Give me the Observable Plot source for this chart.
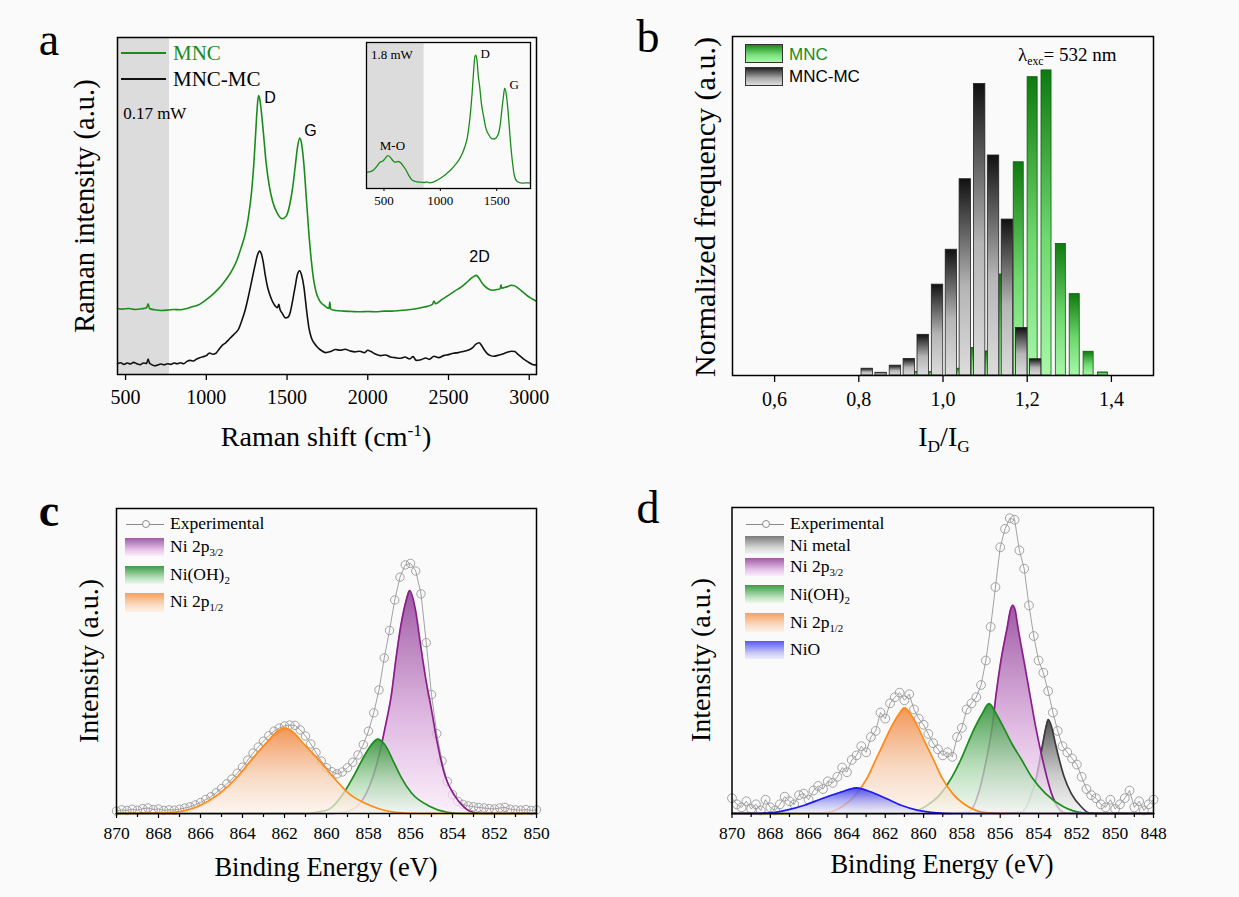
<!DOCTYPE html>
<html>
<head>
<meta charset="utf-8">
<script src="https://cdn.jsdelivr.net/npm/d3@7"></script>
<script src="https://cdn.jsdelivr.net/npm/@observablehq/plot@0.6"></script>
<style>
  body { margin: 0; background: #fafafa; }
  #fig { position: relative; width: 1239px; height: 897px; overflow: hidden; font-family: 'Liberation Serif', 'Times New Roman', serif; }
  .pl { position: absolute; }
  .lbl { position: absolute; white-space: nowrap; line-height: 1; color: #000; }
  .lbl sub { font-size: 0.62em; vertical-align: -0.35em; line-height: 0; }
  .lbl sup { font-size: 0.62em; vertical-align: 0.6em; line-height: 0; }
  .sw { position: absolute; box-sizing: border-box; }
</style>
</head>
<body>
<div id="fig"></div>
<svg width="0" height="0" style="position:absolute">
  <defs>
    <linearGradient id="gBarGreen" x1="0" y1="0" x2="0" y2="1">
      <stop offset="0" stop-color="#0f7a0f"/><stop offset="0.55" stop-color="#6fd86f"/><stop offset="1" stop-color="#a8f7a8"/>
    </linearGradient>
    <linearGradient id="gBarBlack" x1="0" y1="0" x2="0" y2="1">
      <stop offset="0" stop-color="#111"/><stop offset="0.55" stop-color="#b5b5b5"/><stop offset="1" stop-color="#dcdcdc"/>
    </linearGradient>
    <linearGradient id="gPurple" x1="0" y1="0" x2="0" y2="1">
      <stop offset="0" stop-color="#94479a" stop-opacity="0.9"/><stop offset="0.6" stop-color="#d9a8dc" stop-opacity="0.75"/><stop offset="1" stop-color="#fbeafb" stop-opacity="0.7"/>
    </linearGradient>
    <linearGradient id="gGreen" x1="0" y1="0" x2="0" y2="1">
      <stop offset="0" stop-color="#2f8f35" stop-opacity="0.9"/><stop offset="0.6" stop-color="#a9d8ab" stop-opacity="0.75"/><stop offset="1" stop-color="#eef8ee" stop-opacity="0.7"/>
    </linearGradient>
    <linearGradient id="gOrange" x1="0" y1="0" x2="0" y2="1">
      <stop offset="0" stop-color="#f28a45" stop-opacity="0.9"/><stop offset="0.6" stop-color="#f7d2b6" stop-opacity="0.75"/><stop offset="1" stop-color="#fdf3ea" stop-opacity="0.7"/>
    </linearGradient>
    <linearGradient id="gGray" x1="0" y1="0" x2="0" y2="1">
      <stop offset="0" stop-color="#3c3c3c" stop-opacity="0.9"/><stop offset="0.6" stop-color="#bdbdbd" stop-opacity="0.75"/><stop offset="1" stop-color="#f2f2f2" stop-opacity="0.7"/>
    </linearGradient>
    <linearGradient id="gBlue" x1="0" y1="0" x2="0" y2="1">
      <stop offset="0" stop-color="#3535ee" stop-opacity="0.9"/><stop offset="0.6" stop-color="#a9a9f2" stop-opacity="0.75"/><stop offset="1" stop-color="#ececfb" stop-opacity="0.7"/>
    </linearGradient>
  </defs>
</svg>
<script>
// ---------------- DATA ----------------
// Panel a: Raman spectra (x: Raman shift cm-1, y: intensity a.u.)
const ramanMNC = [[450,19.6],[480,19.4],[520,19.6],[560,19.3],[600,19.5],[630,19.8],[640,21.0],[648,19.6],[680,19.2],[720,19.0],[760,19.1],[800,19.3],[840,19.2],[880,19.6],[920,20.2],[950,20.6],[980,21.5],[1010,22.6],[1040,23.8],[1070,25.2],[1100,26.8],[1130,28.7],[1160,31.0],[1190,34.0],[1215,37.5],[1240,41.5],[1260,46.5],[1280,54.0],[1295,63.0],[1305,71.0],[1315,79.0],[1323,82.8],[1332,81.5],[1342,77.5],[1355,71.0],[1370,63.0],[1390,56.0],[1410,51.5],[1440,47.8],[1470,46.2],[1495,47.0],[1515,50.0],[1535,55.5],[1550,61.5],[1565,67.5],[1578,70.2],[1590,68.5],[1605,62.0],[1620,52.0],[1635,42.0],[1650,34.0],[1665,28.0],[1680,24.5],[1700,22.0],[1730,20.5],[1760,19.6],[1765,21.5],[1770,19.4],[1800,19.0],[1850,18.8],[1900,18.7],[1950,18.6],[2000,18.7],[2050,18.6],[2100,18.8],[2150,18.8],[2200,19.0],[2250,19.2],[2300,19.5],[2350,20.0],[2400,20.8],[2410,21.8],[2420,21.0],[2460,22.3],[2500,23.5],[2540,24.8],[2580,26.0],[2610,27.2],[2640,28.5],[2660,29.2],[2672,29.4],[2690,28.5],[2710,27.0],[2740,25.6],[2770,25.0],[2800,25.2],[2820,25.5],[2825,26.6],[2830,25.6],[2860,26.0],[2890,26.5],[2910,26.3],[2935,25.5],[2960,24.5],[2990,23.3],[3020,22.4],[3045,21.7]];
const ramanMNCMC = [[450,3.2],[470,3.5],[490,3.0],[510,3.4],[530,3.1],[550,3.6],[570,3.2],[590,2.9],[610,3.4],[630,3.3],[640,4.6],[648,3.4],[660,3.0],[680,2.6],[700,2.8],[720,3.1],[740,2.9],[760,3.2],[780,3.0],[800,3.4],[820,3.2],[840,3.5],[860,3.2],[880,3.9],[900,4.2],[920,4.0],[940,4.6],[960,5.0],[980,5.3],[1000,5.6],[1020,6.4],[1040,6.0],[1060,6.3],[1080,7.6],[1100,8.7],[1120,9.4],[1140,10.4],[1160,11.4],[1180,12.3],[1200,13.5],[1220,16.0],[1240,19.0],[1260,23.0],[1280,27.5],[1300,32.0],[1318,35.6],[1330,36.6],[1340,36.0],[1352,33.5],[1365,29.5],[1380,25.8],[1400,22.8],[1420,20.8],[1440,19.8],[1450,20.8],[1455,19.5],[1470,18.2],[1490,16.8],[1505,17.0],[1520,18.5],[1535,22.0],[1550,26.0],[1565,29.8],[1578,30.8],[1590,29.5],[1605,25.8],[1620,19.5],[1635,14.0],[1650,11.0],[1670,9.2],[1690,8.0],[1710,7.2],[1740,6.5],[1770,6.8],[1800,7.4],[1830,7.2],[1860,7.5],[1890,7.0],[1920,6.7],[1950,6.9],[1980,6.5],[2000,7.2],[2020,6.8],[2050,6.0],[2080,5.6],[2110,5.8],[2140,5.2],[2170,5.0],[2200,4.8],[2230,5.2],[2260,4.6],[2280,5.3],[2300,4.2],[2330,4.4],[2360,4.9],[2380,4.5],[2410,5.4],[2440,5.0],[2470,5.6],[2500,5.9],[2530,6.3],[2560,6.5],[2590,6.8],[2620,7.2],[2650,8.0],[2670,9.0],[2690,9.4],[2705,8.6],[2720,7.4],[2740,6.2],[2760,5.6],[2780,5.4],[2800,5.6],[2830,6.0],[2860,6.5],[2890,6.9],[2910,6.8],[2930,6.0],[2960,4.8],[2990,3.8],[3020,3.0],[3045,2.8]];
const ramanInset = [[350,11.1],[380,11.5],[412,13],[440,15.5],[465,18],[490,18.8],[510,20.5],[535,22.5],[555,21.5],[575,19.5],[600,18],[625,18.5],[650,17.5],[670,15.5],[693,13],[720,9.0],[746,6.1],[780,4.8],[816,4.3],[858,4.1],[880,4.6],[904,3.9],[930,4.2],[956,5],[990,6.5],[1026,8.4],[1060,10.5],[1096,13],[1130,16],[1167,19.8],[1195,24],[1219,28.9],[1240,35],[1254,42.5],[1270,54],[1282,65.2],[1295,80],[1307,90.5],[1315,91.4],[1325,88],[1337,77],[1349,69.8],[1365,58],[1384,49.3],[1405,41],[1430,36.8],[1455,34.2],[1476,33.9],[1500,35.2],[1518,38],[1532,44],[1546,53.9],[1560,63],[1570,68.6],[1582,66],[1595,58],[1610,44],[1623,31.1],[1640,18],[1658,8.4],[1680,5],[1711,3.9],[1740,3.7],[1770,3.9],[1800,3.8]];
const ramanTicks = [500, 1000, 1500, 2000, 2500, 3000];
const insetTicks = [500, 1000, 1500];
const powerBands = [{x1: 450, x2: 772, text: "0.17 mW"}];
const insetBands = [{x1: 345, x2: 856, text: "1.8 mW"}];
const peakLabels = [{x: 1395, y: 82, text: "D"}, {x: 1645, y: 72.3, text: "G"}, {x: 2692, y: 35, text: "2D"}];
const powerLabels = [{x: 485, y: 77.4, text: "0.17 mW"}];
const insetLabels = [{x: 1398, y: 92.3, text: "D"}, {x: 1655, y: 71, text: "G"}, {x: 575, y: 29.5, text: "M-O"}];
const insetPower = [{x: 385, y: 91.8, text: "1.8 mW"}];

// Panel b: I_D/I_G histogram
const binCenters = [0.820,0.853,0.887,0.920,0.953,0.987,1.020,1.053,1.087,1.120,1.153,1.187,1.220,1.253,1.287,1.320,1.353,1.387];
const binWidth = 1 / 30;
const freqMNC   = [0,0,0,0,0.010,0.010,0,0.020,0.081,0.071,0.298,0.629,0.880,0.900,0.388,0.240,0.070,0.009];
const freqMNCMC = [0.020,0.008,0.029,0.049,0.120,0.268,0.371,0.579,0.860,0.649,0.460,0.140,0.048,0,0,0,0,0];
const ratioTicks = [0.6, 0.8, 1.0, 1.2, 1.4];

// Panel c: XPS Ni 2p (binding energy eV, intensity a.u.)
const cExp = [[870,0.008],[869.75,0.012],[869.5,0.010],[869.25,0.014],[869,0.011],[868.75,0.016],[868.5,0.018],[868.25,0.013],[868,0.015],[867.75,0.010],[867.5,0.012],[867.25,0.011],[867,0.014],[866.75,0.018],[866.5,0.022],[866.25,0.028],[866,0.036],[865.75,0.046],[865.5,0.055],[865.25,0.068],[865,0.082],[864.75,0.097],[864.5,0.113],[864.25,0.132],[864,0.152],[863.75,0.175],[863.5,0.198],[863.25,0.218],[863,0.237],[862.75,0.255],[862.5,0.270],[862.25,0.280],[862,0.287],[861.75,0.290],[861.5,0.289],[861.25,0.274],[861,0.254],[860.75,0.228],[860.5,0.200],[860.25,0.172],[860,0.150],[859.75,0.137],[859.5,0.130],[859.25,0.136],[859,0.150],[858.75,0.168],[858.5,0.192],[858.25,0.226],[858,0.270],[857.75,0.330],[857.5,0.405],[857.25,0.510],[857,0.600],[856.75,0.700],[856.5,0.775],[856.25,0.815],[856,0.820],[855.75,0.795],[855.5,0.720],[855.25,0.560],[855,0.390],[854.75,0.262],[854.5,0.172],[854.25,0.105],[854,0.062],[853.75,0.040],[853.5,0.030],[853.25,0.025],[853,0.022],[852.75,0.020],[852.5,0.018],[852.25,0.016],[852,0.015],[851.75,0.018],[851.5,0.020],[851.25,0.014],[851,0.012],[850.75,0.011],[850.5,0.013],[850.25,0.010],[850,0.012]];
const cP32 = [[870,0],[860,0],[859.5,0.001],[858.8,0.012],[858.1,0.067],[857.55,0.176],[857.2,0.285],[856.9,0.394],[856.7,0.503],[856.47,0.612],[856.2,0.70],[856.04,0.731],[855.76,0.666],[855.53,0.557],[855.29,0.448],[855.0,0.34],[854.72,0.23],[854.35,0.122],[853.88,0.057],[853.5,0.024],[853.03,0.004],[852.5,0],[850,0]];
const cOH = [[870,0],[861,0],[860.5,0.004],[859.9,0.013],[859.18,0.067],[858.71,0.122],[858.3,0.176],[857.92,0.22],[857.55,0.244],[857.17,0.22],[856.85,0.176],[856.47,0.122],[855.95,0.067],[855.1,0.024],[854.25,0.004],[853.5,0],[850,0]];
const cP12 = [[870,0],[868,0.001],[867.23,0.004],[866.1,0.024],[865.07,0.067],[864.22,0.122],[863.57,0.176],[862.87,0.231],[862.34,0.269],[862.0,0.28],[861.63,0.269],[861.12,0.231],[860.37,0.176],[859.71,0.122],[858.96,0.067],[857.83,0.024],[856.7,0.004],[855.5,0],[850,0]];
const cTicks = [870, 868, 866, 864, 862, 860, 858, 856, 854, 852, 850];
const cMinor = [869, 867, 865, 863, 861, 859, 857, 855, 853, 851];

// Panel d
const dExp = [[870,0.05],[869.75,0.03],[869.5,0.02],[869.25,0.04],[869,0.015],[868.75,0.03],[868.5,0.01],[868.25,0.045],[868,0.02],[867.75,0.01],[867.5,0.03],[867.25,0.055],[867,0.04],[866.75,0.03],[866.5,0.06],[866.25,0.065],[866,0.045],[865.75,0.075],[865.5,0.09],[865.25,0.08],[865,0.105],[864.75,0.1],[864.5,0.12],[864.25,0.15],[864,0.135],[863.75,0.175],[863.5,0.19],[863.25,0.22],[863,0.2],[862.75,0.25],[862.5,0.27],[862.25,0.33],[862,0.31],[861.75,0.36],[861.5,0.38],[861.25,0.395],[861,0.37],[860.75,0.39],[860.5,0.34],[860.25,0.31],[860,0.29],[859.75,0.26],[859.5,0.23],[859.25,0.21],[859,0.19],[858.75,0.2],[858.5,0.185],[858.25,0.25],[858,0.28],[857.75,0.34],[857.5,0.36],[857.25,0.38],[857,0.42],[856.75,0.5],[856.5,0.61],[856.25,0.74],[856,0.87],[855.75,0.93],[855.5,0.965],[855.25,0.96],[855,0.86],[854.75,0.8],[854.5,0.68],[854.25,0.58],[854,0.5],[853.75,0.46],[853.5,0.4],[853.25,0.33],[853,0.27],[852.75,0.22],[852.5,0.2],[852.25,0.18],[852,0.16],[851.75,0.12],[851.5,0.08],[851.25,0.06],[851,0.05],[850.75,0.03],[850.5,0.02],[850.25,0.045],[850,0.015],[849.75,0.03],[849.5,0.05],[849.25,0.075],[849,0.02],[848.75,0.04],[848.5,0.01],[848.25,0.03],[848,0.045]];
const dMetal = [[870,0],[856,0],[855.3,0.003],[854.87,0.005],[854.36,0.065],[854.11,0.119],[853.94,0.174],[853.78,0.228],[853.61,0.283],[853.49,0.307],[853.32,0.283],[853.12,0.228],[852.91,0.174],[852.66,0.119],[852.29,0.065],[851.77,0.022],[851.36,0.002],[850.8,0],[848,0]];
const dP32 = [[870,0],[859,0],[858.3,0.002],[857.66,0.005],[857.14,0.065],[856.73,0.174],[856.42,0.283],[856.21,0.392],[855.96,0.501],[855.63,0.610],[855.47,0.664],[855.35,0.68],[855.22,0.664],[855.08,0.610],[854.77,0.501],[854.46,0.392],[854.15,0.283],[853.78,0.174],[853.32,0.065],[853.01,0.022],[852.6,0.002],[852,0],[848,0]];
const dOH = [[870,0],[862,0],[861.3,0.001],[860.65,0.002],[859.93,0.022],[859.1,0.065],[858.52,0.119],[858.07,0.174],[857.7,0.228],[857.31,0.283],[856.94,0.326],[856.58,0.359],[856.21,0.326],[855.84,0.283],[855.39,0.228],[854.87,0.174],[854.36,0.119],[853.63,0.065],[852.7,0.022],[851.67,0.002],[851,0],[848,0]];
const dP12 = [[870,0],[866.5,0],[865.19,0.002],[864.26,0.022],[863.5,0.065],[862.92,0.119],[862.51,0.174],[862.1,0.228],[861.68,0.283],[861.27,0.326],[861.0,0.345],[860.69,0.326],[860.3,0.283],[859.89,0.228],[859.47,0.174],[859.06,0.119],[858.48,0.065],[857.66,0.022],[856.63,0.002],[855.5,0],[848,0]];
const dNiO = [[870,0],[869,0],[867.98,0.002],[867.15,0.011],[866.22,0.027],[865.29,0.049],[864.26,0.071],[863.5,0.084],[862.78,0.071],[861.95,0.049],[861.17,0.027],[860.34,0.011],[859.31,0.002],[858.5,0],[848,0]];
const dTicks = [870, 868, 866, 864, 862, 860, 858, 856, 854, 852, 850, 848];
const dMinor = [869, 867, 865, 863, 861, 859, 857, 855, 853, 851, 849];

// ---------------- HELPERS ----------------
const fig = document.getElementById("fig");
const SERIF = "'Liberation Serif', 'Times New Roman', serif";
const SANS = "'Liberation Sans', Arial, sans-serif";
const X = d => d[0], Y = d => d[1];

function put(el, left, top) {
  const div = document.createElement("div");
  div.className = "pl";
  div.style.left = left + "px";
  div.style.top = top + "px";
  div.appendChild(el);
  fig.appendChild(div);
}
function label(html, x, y, css = "", anchor = "start", rotate = false) {
  const d = document.createElement("div");
  d.className = "lbl";
  d.innerHTML = html;
  d.style.left = x + "px";
  d.style.top = y + "px";
  const tx = anchor === "middle" ? "-50%" : "0";
  d.style.transform = `translate(${tx},-50%)` + (rotate ? " rotate(-90deg)" : "");
  d.style.cssText += css;
  fig.appendChild(d);
}
function swatch(x, y, w, h, css) {
  const d = document.createElement("div");
  d.className = "sw";
  d.style.left = x + "px"; d.style.top = y + "px";
  d.style.width = w + "px"; d.style.height = h + "px";
  d.style.cssText += css;
  fig.appendChild(d);
}
const baseStyle = (fs) => ({fontFamily: SERIF, fontSize: fs + "px", background: "transparent", overflow: "visible", color: "#000"});

// ---------------- PANEL A ----------------
const plotA = Plot.plot({
  width: 620, height: 460,
  marginLeft: 117, marginRight: 84, marginTop: 37, marginBottom: 86,
  style: baseStyle(19),
  x: {domain: [450, 3045]},
  y: {domain: [0, 100], axis: null},
  marks: [
    Plot.rect(powerBands, {x1: "x1", x2: "x2", y1: 0, y2: 100, fill: "#dcdcdc"}),
    Plot.line(ramanMNCMC, {x: X, y: Y, stroke: "#111", strokeWidth: 1.6, curve: "monotone-x"}),
    Plot.line(ramanMNC, {x: X, y: Y, stroke: "#1b8c1b", strokeWidth: 1.6, curve: "monotone-x"}),
    Plot.text(peakLabels, {x: "x", y: "y", text: "text", fontFamily: SANS, fontSize: 16, fill: "#000"}),
    Plot.text(powerLabels, {x: "x", y: "y", text: "text", fontSize: 17, textAnchor: "start", fill: "#000"}),
    Plot.frame({stroke: "#000", strokeWidth: 1.5}),
    Plot.axisX({ticks: ramanTicks, tickSize: 6, tickPadding: 9, fontSize: 20, label: null, strokeWidth: 1.3, tickFormat: d => String(d)})
  ]
});
put(plotA, 0, 0);

// Inset
const plotInset = Plot.plot({
  width: 166, height: 176,
  marginLeft: 1, marginRight: 1, marginTop: 1, marginBottom: 29,
  style: baseStyle(13),
  x: {domain: [345, 1800]},
  y: {domain: [0, 100], axis: null},
  marks: [
    Plot.rect(insetBands, {x1: "x1", x2: "x2", y1: 0, y2: 100, fill: "#dcdcdc"}),
    Plot.line(ramanInset, {x: X, y: Y, stroke: "#1b8c1b", strokeWidth: 1.3, curve: "monotone-x"}),
    Plot.text(insetLabels, {x: "x", y: "y", text: "text", fontSize: 13, fill: "#000"}),
    Plot.text(insetPower, {x: "x", y: "y", text: "text", fontSize: 13, textAnchor: "start", fill: "#000"}),
    Plot.frame({stroke: "#000", strokeWidth: 1.3}),
    Plot.axisX({ticks: insetTicks, tickSize: 3, tickPadding: 4, fontSize: 13, label: null, tickFormat: d => String(d)})
  ]
});
put(plotInset, 365, 41);

// ---------------- PANEL B ----------------
const barsMNC = binCenters.map((c, i) => ({x1: c - binWidth / 2, x2: c + binWidth / 2, y: freqMNC[i]})).filter(d => d.y > 0);
const barsMC = binCenters.map((c, i) => ({x1: c - binWidth / 2, x2: c + binWidth / 2, y: freqMNCMC[i]})).filter(d => d.y > 0);
const plotB = Plot.plot({
  width: 619, height: 460,
  marginLeft: 112, marginRight: 86, marginTop: 36, marginBottom: 85,
  style: baseStyle(19),
  x: {domain: [0.5, 1.5]},
  y: {domain: [0, 1], axis: null},
  marks: [
    Plot.rectY(barsMNC, {x1: "x1", x2: "x2", y1: 0, y2: "y", fill: "url(#gBarGreen)", stroke: "#0b5c0b", strokeWidth: 0.8, insetLeft: 2, insetRight: 2, dx: -3}),
    Plot.rectY(barsMC, {x1: "x1", x2: "x2", y1: 0, y2: "y", fill: "url(#gBarBlack)", stroke: "#222", strokeWidth: 0.8, insetLeft: 1.3, insetRight: 1.3}),
    Plot.frame({stroke: "#000", strokeWidth: 1.5}),
    Plot.axisX({ticks: ratioTicks, tickSize: 7, tickPadding: 9, fontSize: 20, label: null, strokeWidth: 1.3, tickFormat: d => d.toFixed(1).replace(".", ",")})
  ]
});
put(plotB, 620, 0);

// ---------------- PANEL C ----------------
function fitMarks(data, grad, color) {
  return [
    Plot.areaY(data, {x: X, y: Y, fill: grad, curve: "monotone-x"}),
    Plot.line(data, {x: X, y: Y, stroke: color, strokeWidth: 1.7, curve: "monotone-x"})
  ];
}
const plotC = Plot.plot({
  width: 620, height: 437,
  marginLeft: 116, marginRight: 84, marginTop: 48, marginBottom: 84,
  style: baseStyle(17),
  x: {domain: [870, 850]},
  y: {domain: [0, 1], axis: null},
  marks: [
    Plot.line(cExp, {x: X, y: Y, stroke: "#8a8a8a", strokeWidth: 0.8}),
    Plot.dot(cExp, {x: X, y: Y, r: 4.2, stroke: "#999", strokeWidth: 0.9, fill: "none"}),
    ...fitMarks(cP32, "url(#gPurple)", "#8b1c8b"),
    ...fitMarks(cOH, "url(#gGreen)", "#1e8c1e"),
    ...fitMarks(cP12, "url(#gOrange)", "#ff8a16"),
    Plot.frame({stroke: "#000", strokeWidth: 1.5}),
    Plot.axisX({ticks: cMinor, tickSize: 4, tickFormat: () => "", label: null, strokeWidth: 1.2}),
    Plot.axisX({ticks: cTicks, tickSize: 5, tickPadding: 8, fontSize: 17.5, label: null, strokeWidth: 1.2, tickFormat: d => String(d)})
  ]
});
put(plotC, 0, 460);

// ---------------- PANEL D ----------------
const plotD = Plot.plot({
  width: 619, height: 437,
  marginLeft: 111.5, marginRight: 86, marginTop: 47, marginBottom: 84,
  style: baseStyle(17),
  x: {domain: [870, 848]},
  y: {domain: [0, 1], axis: null},
  marks: [
    Plot.line(dExp, {x: X, y: Y, stroke: "#8a8a8a", strokeWidth: 0.8}),
    Plot.dot(dExp, {x: X, y: Y, r: 4.4, stroke: "#999", strokeWidth: 0.9, fill: "none"}),
    ...fitMarks(dMetal, "url(#gGray)", "#3a3a3a"),
    ...fitMarks(dP32, "url(#gPurple)", "#8b1c8b"),
    ...fitMarks(dOH, "url(#gGreen)", "#1e8c1e"),
    ...fitMarks(dP12, "url(#gOrange)", "#ff8a16"),
    ...fitMarks(dNiO, "url(#gBlue)", "#1c1cf0"),
    Plot.frame({stroke: "#000", strokeWidth: 1.5}),
    Plot.axisX({ticks: dMinor, tickSize: 4, tickFormat: () => "", label: null, strokeWidth: 1.2}),
    Plot.axisX({ticks: dTicks, tickSize: 5, tickPadding: 8, fontSize: 17.5, label: null, strokeWidth: 1.2, tickFormat: d => String(d)})
  ]
});
put(plotD, 620, 460);

// ---------------- TEXT: letters, axis titles, legends ----------------
const L = `font-family:${SERIF};`;
label("a", 49, 40, L + "font-size:46px;", "middle");
label("b", 648, 37, L + "font-size:46px;", "middle");
label("c", 49, 511, L + "font-size:46px;font-weight:bold;", "middle");
label("d", 648, 508, L + "font-size:46px;", "middle");

label("Raman shift (cm<sup>-1</sup>)", 326, 437, L + "font-size:28px;", "middle");
label("Raman intensity (a.u.)", 85, 206, L + "font-size:28.5px;", "middle", true);
label("I<sub>D</sub>/I<sub>G</sub>", 944, 437, L + "font-size:28px;", "middle");
label("Normalized frequency (a.u.)", 705, 207, L + "font-size:30px;", "middle", true);
label("Binding Energy (eV)", 326, 867, L + "font-size:26.5px;", "middle");
label("Intensity (a.u.)", 89, 661, L + "font-size:28px;", "middle", true);
label("Binding Energy (eV)", 942, 864, L + "font-size:26.5px;", "middle");
label("Intensity (a.u.)", 701, 660, L + "font-size:28px;", "middle", true);

// Legend a
swatch(121, 51.7, 45, 2.2, "background:#1b8c1b;");
swatch(121, 77.5, 45, 2.2, "background:#111;");
label("MNC", 173, 53, L + "font-size:21px;color:#1b8c1b;");
label("MNC-MC", 173, 79, L + "font-size:21px;");

// Legend b
swatch(745, 43.5, 38, 19.5, "background:linear-gradient(#1a8a1a,#7fe07f 60%,#aaf7aa);border:1px solid #333;");
swatch(745, 66.5, 38, 19, "background:linear-gradient(#222,#aaa 60%,#ddd);border:1px solid #333;");
label("MNC", 789, 53.5, `font-family:${SANS};font-size:17px;color:#1b8c1b;`);
label("MNC-MC", 789, 75.5, `font-family:${SANS};font-size:17px;`);
label("λ<sub>exc</sub>= 532 nm", 1018, 54, L + "font-size:19px;");

// Legends c and d
function expLegend(x0, y) {
  swatch(x0, y - 0.5, 38, 1.2, "background:#8a8a8a;");
  swatch(x0 + 15.5, y - 4, 8, 8, "background:#fff;border:1px solid #888;border-radius:50%;");
}
const swC = {
  purple: "linear-gradient(#a05aa8,#e6c4e8 65%,#fbeefb)",
  green: "linear-gradient(#3e9a48,#b6dfb8 65%,#eef8ee)",
  orange: "linear-gradient(#f5a060,#f9dcc6 65%,#fdf2e8)",
  gray: "linear-gradient(#7a7a7a,#d6d6d6 65%,#f3f3f3)",
  blue: "linear-gradient(#5858ee,#c6c6f5 65%,#eeeefb)"
};
const LT = L + "font-size:17.5px;";
expLegend(126, 524);
label("Experimental", 170, 524, LT);
swatch(125, 538, 39, 18.3, "background:" + swC.purple);
label("Ni 2p<sub>3/2</sub>", 170, 547, LT);
swatch(125, 566, 39, 18.3, "background:" + swC.green);
label("Ni(OH)<sub>2</sub>", 170, 575, LT);
swatch(125, 593, 39, 18.5, "background:" + swC.orange);
label("Ni 2p<sub>1/2</sub>", 170, 602, LT);

expLegend(746, 524);
label("Experimental", 790, 524, LT);
swatch(745, 536, 39, 17.5, "background:" + swC.gray);
label("Ni metal", 790, 545.5, LT);
swatch(745, 558, 39, 18, "background:" + swC.purple);
label("Ni 2p<sub>3/2</sub>", 790, 567, LT);
swatch(745, 585, 39, 18, "background:" + swC.green);
label("Ni(OH)<sub>2</sub>", 790, 595, LT);
swatch(745, 613, 39, 18.5, "background:" + swC.orange);
label("Ni 2p<sub>1/2</sub>", 790, 622.5, LT);
swatch(745, 641, 39, 18, "background:" + swC.blue);
label("NiO", 790, 650, LT);
</script>
</body>
</html>
